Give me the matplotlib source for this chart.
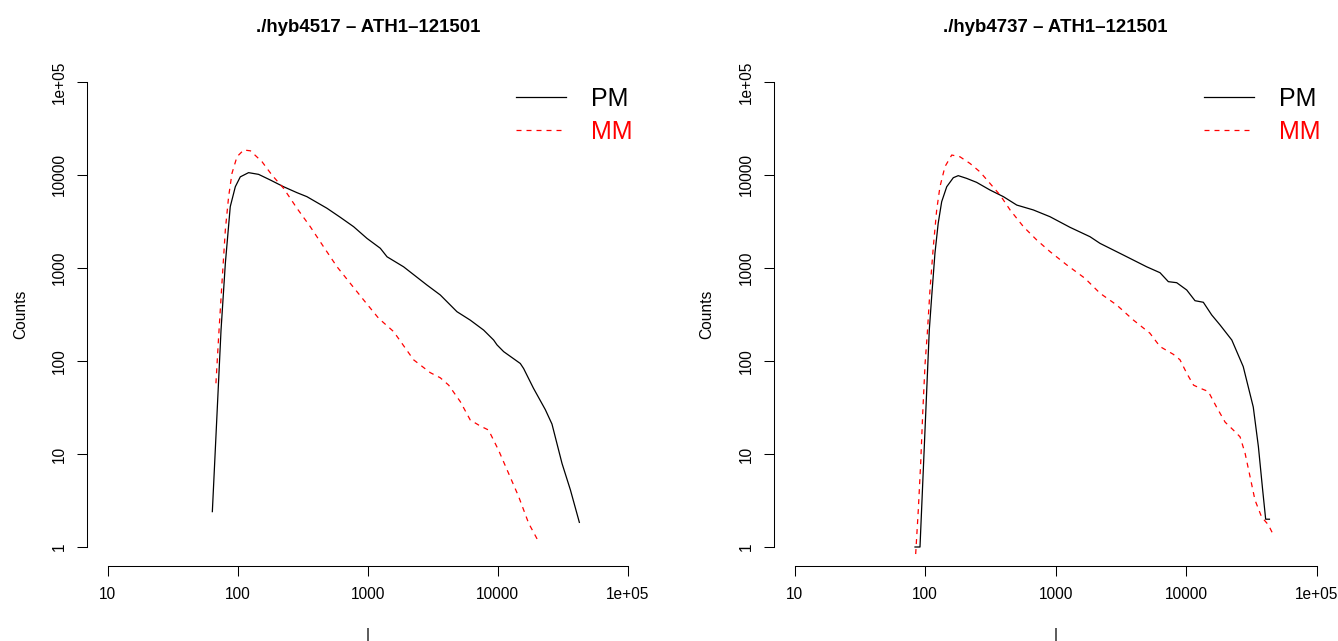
import matplotlib
matplotlib.use('Agg')
import matplotlib.pyplot as plt
from matplotlib.ticker import FixedLocator, FixedFormatter, NullLocator

plt.rcParams['font.family'] = ['Liberation Sans', 'DejaVu Sans']

# intensity distribution of PM / MM probes, one panel per hybridisation
titles = ['./hyb4517 \u2013 ATH1\u2013121501', './hyb4737 \u2013 ATH1\u2013121501']

pm1_x = [63.7, 74.3, 80.2, 87.5, 95.7, 104.5, 121, 144.5, 178, 225, 285, 340, 485, 614, 778, 986,
         1248, 1406, 1885, 2850, 3610, 4850, 6140, 7780, 9290, 9860, 11100, 14900, 15800, 18800,
         23200, 26100, 31200, 36200, 42400]
pm1_y = [2.4, 215, 1120, 4570, 7480, 9550, 10600, 10160, 8830, 7480, 6460, 5850, 4390, 3510, 2780, 2080,
         1630, 1320, 1030, 656, 513, 339, 275, 215, 168, 149, 126, 94, 83, 51,
         30, 21, 7.9, 4.1, 1.84]

mm1_x = [67.9, 71.2, 75.5, 80.2, 85, 90.2, 98.6, 111, 125, 153.5, 183, 225, 285, 361, 457, 580, 733,
         929, 1211, 1580, 2250, 3020, 3610, 4190, 5150, 6140, 7330, 8490, 10130, 12100, 14450,
         17270, 20600]
mm1_y = [57.6, 182, 684, 2570, 5850, 10430, 15740, 18580, 18200, 13900, 10000, 7190, 4390, 2780, 1690,
         1030, 684, 453, 288, 207, 103, 75, 66, 55, 36.5, 23.2, 20, 18.1, 11, 6.2, 3.5, 1.8, 1.14]

pm2_x = [83.7, 91.4, 107.7, 112.3, 119, 126, 134, 146.5, 164.5, 179.5, 208, 248, 314, 398, 504, 675,
         906, 1288, 1835, 2190, 3300, 4990, 6310, 7310, 8470, 10110, 11700, 13550, 15700, 18200,
         22400, 27400, 32700, 35800, 38600, 40700, 43500]
pm2_y = [1, 1, 215, 490, 1440, 3020, 5160, 7480, 9350, 9840, 9200, 8340, 6900, 5850, 4750, 4210,
         3560, 2740, 2170, 1840, 1380, 1030, 890, 713, 695, 580, 445, 428, 313, 244,
         168, 87, 32, 12, 4.1, 1.99, 1.99]

mm2_x = [84.7, 88.7, 92.5, 95.9, 100, 104, 109, 115.6, 122.7, 130, 142, 160, 185, 221, 263.5, 314,
         375, 448, 567, 717, 906, 1217, 1680, 2190, 2940, 3940, 5280, 6310, 7980, 8980, 10100,
         11400, 12800, 14800, 17100, 19900, 23000, 25900, 28300, 30900, 33700, 37900, 42700, 46600]
mm2_y = [0.84, 2.5, 7.9, 27.4, 94, 199, 580, 1690, 4210, 7480, 12300, 16400, 15700, 13300, 10800,
         8130, 6100, 4210, 2780, 2000, 1500, 1080, 774, 535, 400, 276, 199, 143, 118, 103, 74,
         55, 51, 47, 32, 22, 18.1, 15.3, 10.2, 5.7, 3.2, 2.1, 1.73, 1.35]

x_ticks = [10, 100, 1000, 10000, 100000]
x_labels = ['10', '100', '1000', '10000', '1e+05']
y_ticks = [1, 10, 100, 1000, 10000, 100000]
y_labels = ['1', '10', '100', '1000', '10000', '1e+05']

W, H = 1338, 641
fig = plt.figure(figsize=(W / 100, H / 100), dpi=100)

# plot regions in pixels: (left, right), shared top/bottom
panels = [(87, 648.6), (773.7, 1337.5)]
top, bottom = 63.4, 565.6
series = [(pm1_x, pm1_y, mm1_x, mm1_y), (pm2_x, pm2_y, mm2_x, mm2_y)]

for (l, r), (px, py, mx, my), title in zip(panels, series, titles):
    ax = fig.add_axes([l / W, (H - bottom) / H, (r - l) / W, (bottom - top) / H])
    ax.plot(px, py, color='black', lw=0.9, label='PM')
    ax.plot(mx, my, color='#ff0000', lw=0.9, dashes=(4, 4), label='MM')
    ax.set_xscale('log')
    ax.set_yscale('log')
    ax.set_xlim(10 ** 0.84, 10 ** 5.16)
    ax.set_ylim(10 ** -0.2, 10 ** 5.2)

    # R style axes: lines only between the first and last tick
    for s in ['top', 'right']:
        ax.spines[s].set_visible(False)
    ax.spines['bottom'].set_bounds(10, 100000)
    ax.spines['left'].set_bounds(1, 100000)
    ax.spines['bottom'].set_linewidth(0.75)
    ax.spines['left'].set_linewidth(0.75)

    ax.xaxis.set_major_locator(FixedLocator(x_ticks))
    ax.xaxis.set_major_formatter(FixedFormatter(x_labels))
    ax.xaxis.set_minor_locator(NullLocator())
    ax.yaxis.set_major_locator(FixedLocator(y_ticks))
    ax.yaxis.set_major_formatter(FixedFormatter(y_labels))
    ax.yaxis.set_minor_locator(NullLocator())
    ax.tick_params(axis='both', length=7.2, width=0.75, labelsize=11.2)
    ax.tick_params(axis='x', pad=8.3)
    ax.tick_params(axis='y', pad=7.3)
    for lab in ax.get_yticklabels():
        lab.set_rotation(90)
        lab.set_va('center')

    ax.set_title(title, fontweight='bold', fontsize=13.4, pad=22.8)
    ax.set_ylabel('Counts', fontsize=11.2)
    ax.yaxis.set_label_coords(-59 / (r - l), 0.5)
    ax.set_xlabel('|', fontsize=11.2)
    ax.xaxis.set_label_coords(0.5, -(628 - bottom) / (bottom - top))

    ax.legend(loc='upper left', bbox_to_anchor=(0.764, 0.953), frameon=False, fontsize=18,
              handlelength=2.0, handletextpad=1.0, labelspacing=0.34, borderpad=0,
              borderaxespad=0, labelcolor='linecolor')

fig.savefig('out.png', dpi=100)
